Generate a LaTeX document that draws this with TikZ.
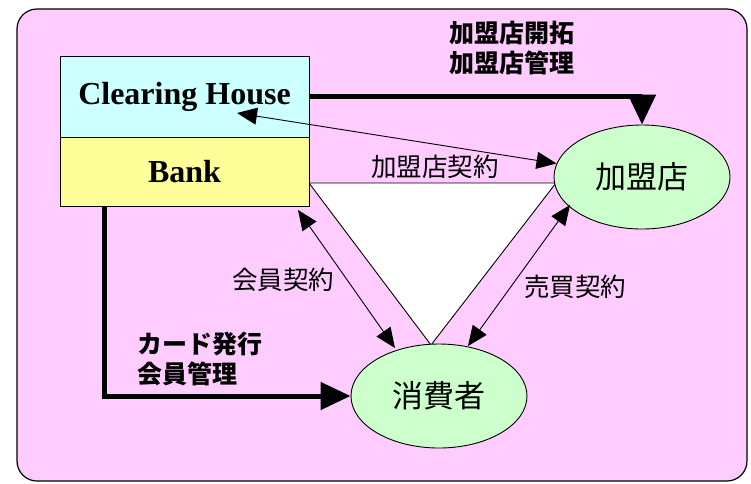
\documentclass[tikz,border=0pt]{standalone}
\usepackage{fontspec}
\setmainfont{Liberation Serif}
\newfontfamily\jp{Noto Sans CJK JP}
\usetikzlibrary{arrows.meta,shapes.geometric}
\definecolor{bgpink}{HTML}{FFCCFF}
\definecolor{chcyan}{HTML}{CCFFFF}
\definecolor{bkyellow}{HTML}{FFFF99}
\definecolor{elgreen}{HTML}{CCFFCC}
\begin{document}
\begin{tikzpicture}[x=1pt,y=-1pt,
  thinarrow/.style={line width=0.9pt,{Triangle[length=20pt,width=17pt]}-{Triangle[length=20pt,width=17pt]}},
  thickarrow/.style={line width=5pt,-{Triangle[length=30pt,width=27pt]}},
  boxnode/.style={draw,line width=0.9pt,minimum width=249pt,inner sep=0pt,font=\bfseries\fontsize{32}{32}\selectfont},
  ellnode/.style={ellipse,draw,line width=0.9pt,fill=elgreen,minimum width=176pt,minimum height=104pt,inner sep=0pt,font=\jp\fontsize{31}{31}\selectfont},
  lab/.style={font=\jp\fontsize{25.5}{25.5}\selectfont,inner sep=0pt},
  blab/.style={font=\jp\bfseries\fontsize{25}{30}\selectfont,inner sep=0pt}]
\useasboundingbox (0,0) rectangle (751,483);
% background
\draw[line width=1.2pt,fill=bgpink,rounded corners=20pt] (17,9) rectangle (747,481);
% triangle
\coordinate (t1) at (309,183);
\coordinate (t2) at (556,183);
\coordinate (t3) at (431,345);
\draw[line width=0.9pt,fill=white] (t1) -- (t2) -- (t3) -- cycle;
% boxes
\node[boxnode,fill=chcyan,minimum height=81pt] (ch) at (184.5,96.5) {Clearing House};
\node[boxnode,fill=bkyellow,minimum height=69pt] (bank) at (184.5,171.5) {Bank};
% ellipses
\node[ellnode] (shop) at (642,177) {加盟店};
\node[ellnode] (cons) at (439,396) {消費者};
% thick arrows
\draw[thickarrow] (ch.east) -| (shop.north);
\coordinate (bk) at (104,206);
\draw[thickarrow] (bk) |- (cons.west);
% thin arrows
\coordinate (a1) at (237,113);
\draw[thinarrow] (a1) -- (shop);
\coordinate (k1) at (298,210);
\coordinate (k2) at (395,348);
\draw[thinarrow] (k1) -- (k2);
\coordinate (s1) at (570,205);
\coordinate (s2) at (468,346);
\draw[thinarrow] (s1) -- (s2);
% labels
\node[blab,align=center] (l1) at (512,48) {加盟店開拓\\加盟店管理};
\node[lab] (l2) at (435,167) {加盟店契約};
\node[lab] (l3) at (283,280) {会員契約};
\node[lab] (l4) at (575,287) {売買契約};
\node[blab,align=left,anchor=west] (l5) at (137,359) {カード発行\\会員管理};
\end{tikzpicture}
\end{document}
